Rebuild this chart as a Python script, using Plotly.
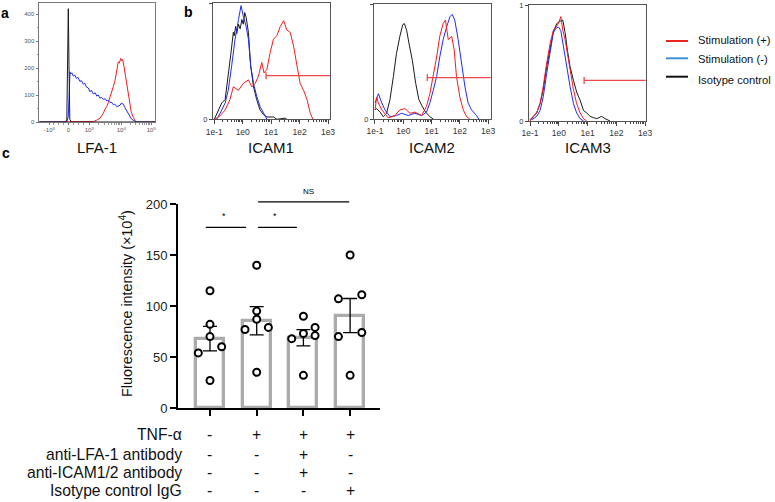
import numpy as np
import plotly.graph_objects as go

W, H = 775, 502
FONT = "Liberation Sans, Arial, Helvetica, sans-serif"

# ---------------- panel a: LFA-1 histogram (logicle display channel, counts) ----------------
lfa1_black_ch = [-29, -3, -1.5, -0.7, 0, 0.7, 1.5, 3, 87]
lfa1_black_cnt = [0, 0, 8, 200, 420, 210, 10, 0, 0]
lfa1_blue_ch = [-29, -2.5, -1.5, 0, 1, 1.7, 2.5, 3.5, 5, 6.5, 8, 9.5, 11.7, 13, 15, 16.5, 18, 20, 21.7, 23,
                25, 27, 28.5, 30, 31.7, 33, 35, 37, 38.5, 40, 41.7, 43, 45, 46.5, 48.4, 50, 51.7, 53, 55, 56.5,
                58.4, 60, 61.7, 63, 65, 66.5, 68.4, 87]
lfa1_blue_cnt = [0, 0, 0, 20, 120, 186, 178, 182, 170, 174, 162, 166, 150, 154, 140, 144, 130, 126, 112, 118,
                 104, 108, 96, 100, 88, 92, 84, 86, 78, 80, 72, 74, 64, 66, 57, 60, 62, 70, 66, 54,
                 40, 28, 20, 12, 6, 2, 0, 0]
lfa1_red_ch = [-29, 22, 25, 28, 30, 31.7, 33.5, 35, 36.5, 38.4, 40, 41.5, 43, 45, 46.5, 48, 49, 50, 51, 52.4,
               53.4, 54.4, 55.7, 57, 58.4, 60, 61.7, 63, 65, 66.5, 68.4, 87]
lfa1_red_cnt = [0, 0, 2, 6, 10, 14, 24, 32, 46, 57, 72, 88, 108, 131, 150, 178, 200, 223, 218, 236,
                226, 232, 205, 172, 137, 95, 57, 36, 17, 6, 0, 0]
lfa1_tick_ch = [-19, 0, 21, 53, 83]
lfa1_tick_text = ["-10<sup>3</sup>", "0", "10<sup>3</sup>", "10<sup>4</sup>", "10<sup>5</sup>"]

# ---------------- panel b: ICAM histograms (log10 intensity, normalised count) ----------------
icam1_black_log = [-1.0, -0.86, -0.74, -0.62, -0.51, -0.42, -0.33, -0.3, -0.25, -0.21, -0.15, -0.09, -0.03, 0.02,
                   0.07, 0.12, 0.2, 0.28, 0.38, 0.49, 0.61, 0.73, 0.85, 1.08, 1.2, 1.49, 1.55]
icam1_black_y = [0.0, 0.08, 0.14, 0.17, 0.37, 0.56, 0.75, 0.72, 0.80, 0.74, 0.82, 0.78, 0.86, 0.82,
                 0.92, 0.88, 0.75, 0.46, 0.28, 0.17, 0.08, 0.04, 0.02, 0.02, 0.0, 0.01, 0.0]
icam1_blue_log = [-0.92, -0.8, -0.62, -0.51, -0.39, -0.27, -0.15, -0.06, 0.02, 0.12, 0.2, 0.28, 0.38, 0.49,
                  0.61, 0.73, 0.85]
icam1_blue_y = [0.0, 0.05, 0.14, 0.25, 0.46, 0.69, 0.86, 0.98, 0.89, 0.80, 0.69, 0.46, 0.31, 0.20,
                0.11, 0.05, 0.0]
icam1_red_log = [-0.98, -0.8, -0.62, -0.45, -0.33, -0.15, 0.02, 0.2, 0.32, 0.44, 0.55, 0.67, 0.75, 0.85,
                 0.96, 1.08, 1.2, 1.32, 1.44, 1.55, 1.67, 1.79, 1.91, 2.02, 2.14, 2.26, 2.38, 2.47]
icam1_red_y = [0.0, 0.03, 0.08, 0.17, 0.28, 0.25, 0.31, 0.34, 0.28, 0.31, 0.37, 0.49, 0.40, 0.43,
               0.57, 0.69, 0.72, 0.80, 0.85, 0.77, 0.75, 0.63, 0.46, 0.31, 0.25, 0.17, 0.05, 0.0]

icam2_black_log = [-1.0, -0.94, -0.82, -0.71, -0.59, -0.47, -0.35, -0.24, -0.12, -0.02, 0.04, 0.12, 0.2, 0.32,
                   0.44, 0.55, 0.67, 0.79, 0.94, 1.06]
icam2_black_y = [0.08, 0.09, 0.06, 0.02, 0.05, 0.17, 0.37, 0.57, 0.72, 0.82, 0.83, 0.77, 0.66, 0.51,
                 0.31, 0.17, 0.11, 0.06, 0.02, 0.0]
icam2_blue_log = [-1.0, -0.88, -0.76, -0.65, -0.47, -0.24, -0.06, 0.18, 0.41, 0.65, 0.82, 0.94, 1.06, 1.18,
                  1.29, 1.41, 1.53, 1.65, 1.73, 1.82, 1.94, 2.06, 2.18, 2.29, 2.41, 2.59, 2.67]
icam2_blue_y = [0.14, 0.22, 0.14, 0.08, 0.02, 0.03, 0.05, 0.03, 0.05, 0.03, 0.06, 0.14, 0.25, 0.37,
                0.54, 0.69, 0.80, 0.89, 0.91, 0.86, 0.69, 0.48, 0.28, 0.14, 0.08, 0.03, 0.0]
icam2_red_log = [-1.0, -0.94, -0.88, -0.76, -0.53, -0.29, -0.12, 0.06, 0.24, 0.41, 0.65, 0.82, 0.94, 1.06,
                 1.18, 1.29, 1.41, 1.49, 1.59, 1.71, 1.8, 1.88, 2.0, 2.12, 2.24, 2.35]
icam2_red_y = [0.08, 0.19, 0.14, 0.08, 0.01, 0.03, 0.08, 0.09, 0.05, 0.06, 0.03, 0.11, 0.22, 0.37,
               0.54, 0.72, 0.83, 0.86, 0.69, 0.72, 0.60, 0.37, 0.19, 0.08, 0.02, 0.0]

icam3_black_log = [-1.0, -0.88, -0.77, -0.65, -0.54, -0.42, -0.30, -0.19, -0.07, 0.04, 0.14, 0.22, 0.30, 0.39,
                   0.51, 0.62, 0.74, 0.86, 0.97, 1.09, 1.2, 1.32, 1.49, 1.61, 1.78]
icam3_black_y = [0.01, 0.04, 0.07, 0.15, 0.27, 0.47, 0.64, 0.77, 0.84, 0.86, 0.87, 0.76, 0.61, 0.47,
                 0.35, 0.25, 0.18, 0.09, 0.07, 0.04, 0.03, 0.02, 0.04, 0.02, 0.0]
icam3_blue_log = [-0.94, -0.77, -0.65, -0.54, -0.42, -0.30, -0.19, -0.10, -0.01, 0.07, 0.16, 0.28, 0.39, 0.51,
                  0.62, 0.74, 0.86]
icam3_blue_y = [0.01, 0.04, 0.09, 0.21, 0.41, 0.61, 0.76, 0.80, 0.81, 0.78, 0.64, 0.47, 0.30, 0.15,
                0.07, 0.02, 0.0]
icam3_red_log = [-1.0, -0.88, -0.77, -0.65, -0.54, -0.42, -0.30, -0.19, -0.10, -0.01, 0.07, 0.14, 0.22, 0.30,
                 0.39, 0.51, 0.62, 0.74, 0.86, 0.97]
icam3_red_y = [0.0, 0.04, 0.07, 0.15, 0.30, 0.50, 0.67, 0.78, 0.81, 0.84, 0.90, 0.78, 0.70, 0.58,
               0.44, 0.27, 0.15, 0.07, 0.02, 0.0]

# gate (positive marker) of stimulated sample: start (log10) and level
gate_start_log = [0.82, 0.85, 0.88]
gate_level = [0.376, 0.36, 0.35]
icam_names = ["ICAM1", "ICAM2", "ICAM3"]
icam_tick_vals = [0.1, 1, 10, 100, 1000]
icam_tick_text = ["1e-1", "1e0", "1e1", "1e2", "1e3"]

# ---------------- panel c: fluorescence intensity (x10^4) ----------------
c_ctrl = [115, 82, 70, 60, 54, 27]
c_tnf = [140, 95, 87, 79, 77, 35]
c_tnf_block = [90, 79, 73, 71, 68, 32]
c_tnf_iso = [150, 111, 107, 74, 70, 32]
dot_offsets = [[0, 0, 0, 0.25, -0.25, 0],
               [0, 0, 0, 0.25, -0.25, 0],
               [0, 0.25, 0, 0.25, -0.25, 0],
               [0, 0.25, -0.25, 0.25, -0.25, 0]]
c_ticks = [0, 50, 100, 150, 200]
row_labels = ["TNF-α", "anti-LFA-1 antibody", "anti-ICAM1/2 antibody", "Isotype control IgG"]
row_marks = [["-", "+", "+", "+"],
             ["-", "-", "+", "-"],
             ["-", "-", "+", "-"],
             ["-", "-", "-", "+"]]
sig_bars = [(-0.09, 0.77, 177, "*"), (1.03, 1.86, 177, "*"), (1.03, 2.98, 202, "NS")]

legend_names = ["Stimulation (+)", "Stimulation (-)", "Isotype control"]
legend_colors = ["#e8251f", "#3d8fd6", "#111111"]

RED, BLUE, BLACK = "#f21c1c", "#1f2cf5", "#1a1a1a"


def xdom(left, right):
    return [left / W, right / W]


def ydom(top, bottom):
    return [1 - bottom / H, 1 - top / H]


def py(v):
    return 1 - v / H


fig = go.Figure()

# ---- panel a
for xs, ys, col in [(lfa1_red_ch, lfa1_red_cnt, RED), (lfa1_blue_ch, lfa1_blue_cnt, BLUE),
                    (lfa1_black_ch, lfa1_black_cnt, BLACK)]:
    fig.add_trace(go.Scatter(x=xs, y=ys, mode="lines", line=dict(color=col, width=1),
                             xaxis="x", yaxis="y", showlegend=False, hoverinfo="skip"))

# ---- panel b
icam_sets = [
    (icam1_black_log, icam1_black_y, icam1_blue_log, icam1_blue_y, icam1_red_log, icam1_red_y),
    (icam2_black_log, icam2_black_y, icam2_blue_log, icam2_blue_y, icam2_red_log, icam2_red_y),
    (icam3_black_log, icam3_black_y, icam3_blue_log, icam3_blue_y, icam3_red_log, icam3_red_y),
]
for i, (bl, by, ul, uy, rl, ry) in enumerate(icam_sets):
    ax = str(i + 2)
    for lx, yy, col in [(bl, by, BLACK), (ul, uy, BLUE), (rl, ry, RED)]:
        fig.add_trace(go.Scatter(x=[10 ** v for v in lx], y=yy, mode="lines", line=dict(color=col, width=1),
                                 xaxis="x" + ax, yaxis="y" + ax, showlegend=False, hoverinfo="skip"))
    gs = 10 ** gate_start_log[i]
    gl = gate_level[i]
    fig.add_trace(go.Scatter(x=[gs, 10 ** 3.3, None, gs, gs], y=[gl, gl, None, gl - 0.03, gl + 0.03],
                             mode="lines", line=dict(color="#f04848", width=1.3),
                             xaxis="x" + ax, yaxis="y" + ax, showlegend=False, hoverinfo="skip"))

# ---- panel c
groups = [0, 1, 2, 3]
samples = [c_ctrl, c_tnf, c_tnf_block, c_tnf_iso]
means = [float(np.mean(s)) for s in samples]
sems = [float(np.std(s, ddof=1) / np.sqrt(len(s))) for s in samples]
fig.add_trace(go.Bar(x=groups, y=means, width=0.6,
                     marker=dict(color="white", line=dict(color="#ababab", width=3.3)),
                     error_y=dict(type="data", array=sems, color="black", thickness=1.3, width=7),
                     xaxis="x5", yaxis="y5", showlegend=False, hoverinfo="skip"))
dx, dy = [], []
for g, s, off in zip(groups, samples, dot_offsets):
    for v, o in zip(s, off):
        dx.append(g + o)
        dy.append(v)
fig.add_trace(go.Scatter(x=dx, y=dy, mode="markers",
                         marker=dict(symbol="circle", size=7, color="white", line=dict(color="black", width=2)),
                         xaxis="x5", yaxis="y5", showlegend=False, hoverinfo="skip", cliponaxis=False))

shapes = []
annotations = []
C_TOP, C_BOT = 204, 408


def cy(v):
    # map a panel-c value to paper coordinates via the y5 domain/range
    d0, d1 = ydom(C_TOP, C_BOT)
    return d0 + (v - 0) / (200 - 0) * (d1 - d0)


for x0, x1, lvl, txt in sig_bars:
    shapes.append(dict(type="line", xref="x5", yref="paper", x0=x0, x1=x1, y0=cy(lvl), y1=cy(lvl),
                       line=dict(color="black", width=1.3)))
    annotations.append(dict(xref="x5", yref="paper", x=(x0 + x1) / 2 - (0.05 if txt == "*" else -0.1),
                            y=cy(lvl + (11 if txt == "*" else 10)), text=txt, showarrow=False,
                            yanchor="middle",
                            font=dict(family=FONT, size=9 if txt == "*" else 8, color="black")))

# table under panel c
row_y = [434, 454, 472, 490]
for lab, marks, ry in zip(row_labels, row_marks, row_y):
    annotations.append(dict(xref="paper", yref="paper", x=184 / W, y=py(ry), xanchor="right", yanchor="middle",
                            text=lab, showarrow=False, font=dict(family=FONT, size=15.7, color="#111")))
    for g, m in zip(groups, marks):
        annotations.append(dict(xref="x5", yref="paper", x=g, y=py(ry), xanchor="center", yanchor="middle",
                                text=m, showarrow=False, font=dict(family=FONT, size=15.7, color="#111")))

# y title panel c
annotations.append(dict(xref="paper", yref="paper", x=126 / W, y=py(303), textangle=-90, showarrow=False,
                        text="Fluorescence intensity (×10<sup>4</sup>)", xanchor="center", yanchor="middle",
                        font=dict(family=FONT, size=14.4, color="#111")))

# panel labels
for t, x, y in [("a", 5, 13), ("b", 188, 12), ("c", 6, 153)]:
    annotations.append(dict(xref="paper", yref="paper", x=x / W, y=py(y), text="<b>%s</b>" % t,
                            showarrow=False, xanchor="center", yanchor="middle",
                            font=dict(family=FONT, size=14, color="black")))

# x titles of histograms
for t, x in [("LFA-1", 97)] + list(zip(icam_names, [271, 432, 588])):
    annotations.append(dict(xref="paper", yref="paper", x=x / W, y=py(148), text=t, showarrow=False,
                            xanchor="center", yanchor="middle", font=dict(family=FONT, size=15, color="#111")))

# legend
leg_line_y = [41, 58.3, 76.7]
leg_text_y = [40, 59, 80]
for name, col, ly, ty in zip(legend_names, legend_colors, leg_line_y, leg_text_y):
    shapes.append(dict(type="line", xref="paper", yref="paper", x0=666 / W, x1=688 / W, y0=py(ly), y1=py(ly),
                       line=dict(color=col, width=2)))
    annotations.append(dict(xref="paper", yref="paper", x=697 / W, y=py(ty), text=name, showarrow=False,
                            xanchor="left", yanchor="middle", borderpad=0,
                            font=dict(family=FONT, size=11.2, color="#111")))

# axes
lfa_minor = [21 + 32 * np.log10(k) for k in range(2, 10)] + [53 + 30 * np.log10(k) for k in range(2, 10)] + \
            [5, 10, 15, -5, -10, -15]
axis_common = dict(showgrid=False, zeroline=False, mirror=True, showline=True, automargin=False)
layout = dict(
    width=W, height=H, autosize=False, margin=dict(l=0, r=0, t=0, b=0, pad=0),
    paper_bgcolor="white", plot_bgcolor="white", showlegend=False,
    shapes=shapes, annotations=annotations, bargap=0,
    xaxis=dict(domain=xdom(39, 155), range=[-29.3, 86.7], anchor="y", tickvals=lfa1_tick_ch,
               ticktext=lfa1_tick_text, ticks="outside", ticklen=2, tickcolor="#777", linecolor="#777",
               linewidth=1, tickfont=dict(family=FONT, size=6, color="#555"),
               minor=dict(tickvals=lfa_minor, ticks="outside", ticklen=1.5, tickcolor="#999"), **axis_common),
    yaxis=dict(domain=ydom(3.3, 122), range=[0, 440], anchor="x", tickvals=[0, 100, 200, 300, 400],
               ticks="outside", ticklen=2.5, tickcolor="#777", linecolor="#777", linewidth=1,
               tickfont=dict(family=FONT, size=6, color="#555"),
               minor=dict(tickvals=[50, 150, 250, 350], ticks="outside", ticklen=1.5, tickcolor="#999"),
               **axis_common),
)
icam_geo = [((213, 330), (3.3, 119.3), [-1.046, 3.07]),
            ((374, 490.7), (4, 119), [-1.035, 3.09]),
            ((529, 645.7), (5, 121), [-1.035, 3.02])]
minor_log = [k * 10 ** e for e in range(-1, 3) for k in range(2, 10)]
for i, ((l, r), (t, b), rng) in enumerate(icam_geo):
    ax = str(i + 2)
    layout["xaxis" + ax] = dict(domain=xdom(l, r), range=rng, type="log", anchor="y" + ax,
                                tickvals=icam_tick_vals, ticktext=icam_tick_text, ticks="outside", ticklen=4,
                                tickcolor="#444", linecolor="#555", linewidth=1,
                                tickfont=dict(family=FONT, size=8.5, color="#333"),
                                minor=dict(tickvals=minor_log, ticks="outside", ticklen=2, tickcolor="#444"),
                                **axis_common)
    layout["yaxis" + ax] = dict(domain=ydom(t, b), range=[0, 1.0], anchor="x" + ax, tickvals=[0, 1],
                                ticks="outside", ticklen=3, tickcolor="#444", linecolor="#555", linewidth=1,
                                tickfont=dict(family=FONT, size=7.5, color="#333"), **axis_common)

layout["xaxis5"] = dict(domain=xdom(178, 380), range=[-0.685, 3.64], anchor="y5", tickvals=groups,
                        showticklabels=False, ticks="outside", ticklen=6, tickwidth=2, tickcolor="black",
                        showline=True, linecolor="black", linewidth=2, showgrid=False, zeroline=False,
                        automargin=False)
layout["yaxis5"] = dict(domain=ydom(C_TOP, C_BOT), range=[0, 200], anchor="x5", tickvals=c_ticks,
                        ticks="outside", ticklen=6, tickwidth=2, tickcolor="black", showline=True,
                        linecolor="black", linewidth=2, showgrid=False, zeroline=False, automargin=False,
                        tickfont=dict(family=FONT, size=13, color="#222"))
fig.update_layout(**layout)
# remove the browser's default 8px page margin so the figure sits at the window's top-left corner
fig.write_html("out.html", config={"displayModeBar": False},
               post_script="document.body.style.margin='0px';document.body.style.padding='0px';")
